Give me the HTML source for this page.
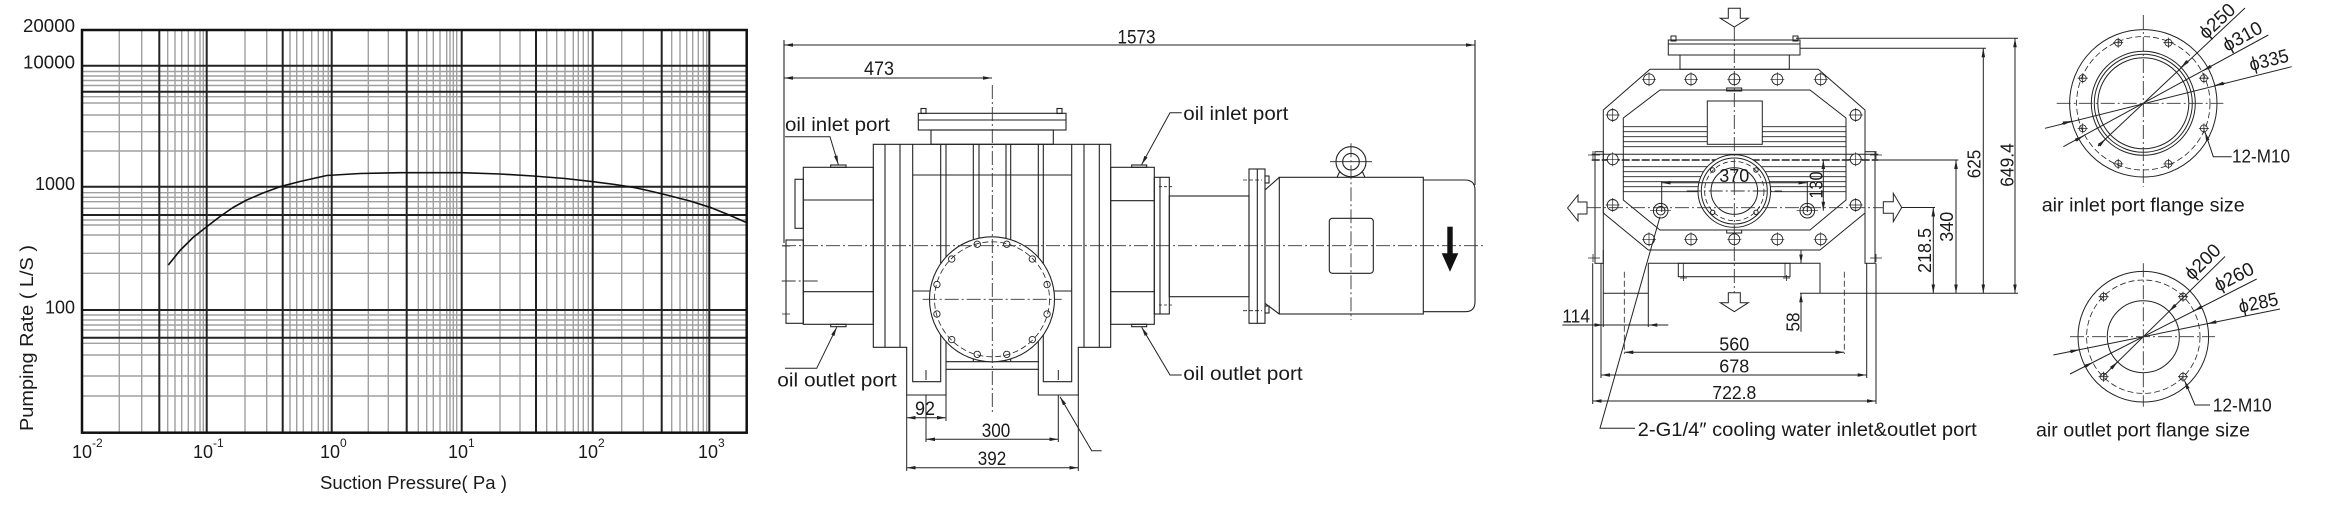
<!DOCTYPE html>
<html><head><meta charset="utf-8"><style>
html,body{margin:0;padding:0;background:#fff;}
svg{display:block;}
text{font-family:"Liberation Sans",sans-serif;fill:#1a1a1a;}
</style></head><body>
<svg width="2326" height="512" viewBox="0 0 2326 512" xmlns="http://www.w3.org/2000/svg">
<defs>
<marker id="ar" viewBox="0 0 10 4" refX="10" refY="2" markerWidth="9" markerHeight="3.6" markerUnits="userSpaceOnUse" orient="auto-start-reverse"><path d="M0,0L10,2L0,4z" fill="#222"/></marker>
</defs>
<rect width="2326" height="512" fill="#fff"/>

<!-- ================= CHART ================= -->
<g fill="none">
<path stroke="#a0a0a0" stroke-width="1.4" d="M119.3,30V432.7M141.7,30V432.7M167.7,30V432.7M175,30V432.7M181.7,30V432.7M188.3,30V432.7M195,30V432.7M200,30V432.7M203.3,30V432.7M245,30V432.7M266.7,30V432.7M290,30V432.7M296.7,30V432.7M303.3,30V432.7M311.7,30V432.7M318.3,30V432.7M323.3,30V432.7M328.3,30V432.7M368.3,30V432.7M388.3,30V432.7M418.3,30V432.7M426.7,30V432.7M433.3,30V432.7M440,30V432.7M446.7,30V432.7M450,30V432.7M453.3,30V432.7M456.7,30V432.7M500,30V432.7M520,30V432.7M546.7,30V432.7M556.7,30V432.7M565,30V432.7M573.3,30V432.7M578.3,30V432.7M583.3,30V432.7M588.3,30V432.7M621.7,30V432.7M643.3,30V432.7M671.7,30V432.7M680,30V432.7M686.7,30V432.7M692.7,30V432.7M698.3,30V432.7M703.3,30V432.7M706.7,30V432.7"/>
<path stroke="#a0a0a0" stroke-width="1.4" d="M82,71.5H746.7M82,76H746.7M82,80.5H746.7M82,85.5H746.7M82,96.7H746.7M82,103H746.7M82,115H746.7M82,131.7H746.7M82,151H746.7M82,192.7H746.7M82,197.3H746.7M82,201.7H746.7M82,208.3H746.7M82,220H746.7M82,225H746.7M82,235H746.7M82,253.3H746.7M82,273.3H746.7M82,315H746.7M82,320H746.7M82,325H746.7M82,330H746.7M82,343.3H746.7M82,355H746.7M82,376H746.7M82,396H746.7"/>
<path stroke="#222" stroke-width="2" d="M159.3,30V432.7M206.7,30V432.7M282.7,30V432.7M331.7,30V432.7M406.7,30V432.7M461.7,30V432.7M536,30V432.7M592.7,30V432.7M661.7,30V432.7M709.3,30V432.7M82,65.7H746.7M82,91.7H746.7M82,186.7H746.7M82,215H746.7M82,310H746.7M82,337.7H746.7"/>
<rect x="82" y="30" width="664.7" height="402.7" stroke="#111" stroke-width="2.5"/>
<polyline stroke="#111" stroke-width="1.6" stroke-linejoin="round" points="168.3,265 180,250.5 193,237.5 206.7,226.7 220,216.5 233,207.5 246.7,200 263,193 280,186.7 300,181.5 326.7,175.5 360,173.5 400,172.7 461.7,172.7 500,174 533,176 565,178.5 593,181.7 615,184.5 633,187.3 650,191 666.7,195 690,201 710,207.3 728,214.5 746.7,222.7"/>
</g>
<g font-size="18">
<text x="75" y="32" text-anchor="end" textLength="52" lengthAdjust="spacingAndGlyphs">20000</text>
<text x="75" y="68.5" text-anchor="end" textLength="52" lengthAdjust="spacingAndGlyphs">10000</text>
<text x="75" y="190" text-anchor="end" textLength="40" lengthAdjust="spacingAndGlyphs">1000</text>
<text x="75" y="313.5" text-anchor="end" textLength="30" lengthAdjust="spacingAndGlyphs">100</text>
<text x="72" y="458">10<tspan dy="-11" font-size="12">-2</tspan></text>
<text x="193" y="458">10<tspan dy="-11" font-size="12">-1</tspan></text>
<text x="320" y="458">10<tspan dy="-11" font-size="12">0</tspan></text>
<text x="448" y="458">10<tspan dy="-11" font-size="12">1</tspan></text>
<text x="578" y="458">10<tspan dy="-11" font-size="12">2</tspan></text>
<text x="698" y="458">10<tspan dy="-11" font-size="12">3</tspan></text>
<text x="320" y="489" textLength="187" lengthAdjust="spacingAndGlyphs">Suction Pressure( Pa )</text>
<text transform="translate(33,338) rotate(-90)" text-anchor="middle" textLength="186" lengthAdjust="spacingAndGlyphs">Pumping Rate ( L/S )</text>
</g>

<!-- ================= SIDE VIEW ================= -->
<g fill="none" stroke="#222" stroke-width="1.1">
<line x1="784" y1="45" x2="1475" y2="45" marker-start="url(#ar)" marker-end="url(#ar)"/>
<line x1="784" y1="78" x2="992" y2="78" marker-start="url(#ar)" marker-end="url(#ar)"/>
<line x1="784" y1="40" x2="784" y2="243"/>
<line x1="1475" y1="40" x2="1475" y2="185"/>
<rect x="918.3" y="113.3" width="147.7" height="16.7"/>
<line x1="918.3" y1="120" x2="1066" y2="120"/>
<rect x="921" y="108.5" width="5" height="5"/><rect x="1057" y="108.5" width="5" height="5"/>
<rect x="931" y="130" width="122.3" height="14.3"/>
<path d="M873.3,144.3H1110.7V347.3H1078.3V395H1038.3V361.7H946V395H906.7V347.3H873.3Z"/>
<line x1="946" y1="369.3" x2="1038.3" y2="369.3"/>
<path d="M885,144.3V347.3M900,144.3V347.3M1084,144.3V347.3M1099.3,144.3V347.3"/>
<path d="M912.7,144.3V381.7H940.7V144.3M1043.3,144.3V381.7H1071.7V144.3"/>
<path d="M946,144.3V361.7M1038.3,144.3V361.7M973.3,144.3V361.7M979,144.3V361.7M1006,144.3V361.7M1010.7,144.3V361.7"/>
<path d="M912.7,175H1071.7M912.7,291H1071.7"/>
<circle cx="992" cy="299.3" r="62.5" fill="#fff"/>
<circle cx="992" cy="299.3" r="57.5" stroke-width="0.8" stroke-dasharray="6 3"/>
<g stroke-width="0.9">
<circle cx="1006.75" cy="244.24" r="3.2"/><circle cx="977.25" cy="244.24" r="3.2"/>
<circle cx="1032.3" cy="259" r="3.2"/><circle cx="951.7" cy="259" r="3.2"/>
<circle cx="1047.06" cy="284.55" r="3.2"/><circle cx="936.94" cy="284.55" r="3.2"/>
<circle cx="1047.06" cy="314.05" r="3.2"/><circle cx="936.94" cy="314.05" r="3.2"/>
<circle cx="1032.3" cy="339.6" r="3.2"/><circle cx="951.7" cy="339.6" r="3.2"/>
<circle cx="1006.75" cy="354.36" r="3.2"/><circle cx="977.25" cy="354.36" r="3.2"/>
</g>
<rect x="803.3" y="167.3" width="70" height="157"/>
<path d="M803.3,200H873.3M803.3,291.7H873.3"/>
<rect x="830.7" y="165" width="15.3" height="2.3"/><rect x="830.7" y="324.3" width="15.3" height="2.4"/>
<rect x="795" y="179.3" width="8.3" height="49"/>
<rect x="786" y="240" width="17.3" height="83.3"/>
<path d="M782,246H790M782,314H790M786,243V249M786,311V317" stroke-width="0.8"/>
<rect x="1110.7" y="167.3" width="43.6" height="157"/>
<path d="M1110.7,200.7H1154.3M1110.7,291.7H1154.3"/>
<rect x="1131.7" y="165" width="15" height="2.3"/><rect x="1131.7" y="324.3" width="15" height="2.4"/>
<rect x="1154.3" y="177.3" width="15" height="136.7"/>
<line x1="1160" y1="177.3" x2="1160" y2="314"/>
<path d="M1159,186.7H1172M1159,305H1172" stroke-width="0.8" stroke-dasharray="3 2"/>
<rect x="1169.3" y="196" width="79.7" height="100.7"/>
<rect x="1249" y="169" width="16" height="154.3"/>
<line x1="1257.3" y1="169" x2="1257.3" y2="323.3"/>
<path d="M1243,180H1262M1243,310.7H1262" stroke-width="0.8" stroke-dasharray="4 2"/>
<rect x="1265" y="176" width="4" height="7"/><rect x="1265" y="306" width="4" height="7"/>
<path d="M1265,190L1279.3,177.3M1265,303.3L1279.3,314"/>
<rect x="1279.3" y="177.3" width="144" height="136.7"/>
<path d="M1423.3,180H1465Q1475,180 1475,190V301.7Q1475,311.7 1465,311.7H1423.3"/>
<circle cx="1351" cy="161.7" r="15"/>
<circle cx="1351" cy="161.7" r="8.3"/>
<path d="M1337,177.3L1340,171M1365,177.3L1362,171"/>
<line x1="1330" y1="161.7" x2="1372" y2="161.7" stroke-width="0.8"/>
<rect x="1329.3" y="218.3" width="44" height="55" rx="3"/>
</g>
<g fill="none" stroke="#333" stroke-width="0.9" stroke-dasharray="14 3 2 3">
<line x1="992.3" y1="85" x2="992.3" y2="412"/>
<line x1="782" y1="245.7" x2="1483" y2="245.7"/>
<line x1="922.7" y1="299.3" x2="1061.7" y2="299.3"/>
<line x1="781.7" y1="281" x2="818.3" y2="281"/>
<line x1="1351" y1="143.3" x2="1351" y2="320"/>
</g>
<rect x="1447.3" y="226.7" width="5.4" height="27" fill="#111"/>
<polygon points="1441.7,253.3 1458.3,253.3 1450,271.7" fill="#111"/>
<g fill="none" stroke="#222" stroke-width="1">
<path d="M906.7,395V471M946,395V421M1078.3,395V471M926,370V380M926,395V442M1058.3,370V380M1058.3,395V442"/>
<line x1="906.7" y1="417.7" x2="946" y2="417.7" marker-start="url(#ar)" marker-end="url(#ar)"/>
<line x1="926" y1="439.3" x2="1058.3" y2="439.3" marker-start="url(#ar)" marker-end="url(#ar)"/>
<line x1="906.7" y1="467.7" x2="1078.3" y2="467.7" marker-start="url(#ar)" marker-end="url(#ar)"/>
<polyline points="1101.7,450.7 1091.7,450.7 1060,396.7" marker-end="url(#ar)"/>
<polyline points="785,136.7 830,136.7 838.3,164.5" marker-end="url(#ar)"/>
<polyline points="785,368.3 816.7,368.3 836.7,327.3" marker-end="url(#ar)"/>
<polyline points="1181.7,112.7 1170,112.7 1141.7,164.5" marker-end="url(#ar)"/>
<polyline points="1181.7,375 1170,375 1141.7,327.3" marker-end="url(#ar)"/>
</g>
<g font-size="19" text-anchor="middle">
<text x="1136.5" y="43.5" textLength="38" lengthAdjust="spacingAndGlyphs">1573</text>
<text x="879" y="75" textLength="30" lengthAdjust="spacingAndGlyphs">473</text>
<text x="925" y="415" textLength="20" lengthAdjust="spacingAndGlyphs">92</text>
<text x="996" y="437" textLength="28.5" lengthAdjust="spacingAndGlyphs">300</text>
<text x="992" y="465" textLength="28.5" lengthAdjust="spacingAndGlyphs">392</text>
</g>
<g font-size="19.5">
<text x="785" y="131" textLength="105" lengthAdjust="spacingAndGlyphs">oil inlet port</text>
<text x="777.3" y="386.7" textLength="119.4" lengthAdjust="spacingAndGlyphs">oil outlet port</text>
<text x="1183.3" y="120" textLength="105" lengthAdjust="spacingAndGlyphs">oil inlet port</text>
<text x="1183.3" y="380" textLength="119.4" lengthAdjust="spacingAndGlyphs">oil outlet port</text>
</g>

<!-- ================= FRONT VIEW ================= -->
<g fill="none" stroke="#222" stroke-width="1">
<path d="M1728.3,8.3H1740.3V18.3H1748.3L1734.3,27L1720.3,18.3H1728.3Z"/>
<path d="M1728.3,292.7H1740.3V302.7H1748.3L1734.3,311.7L1720.3,302.7H1728.3Z"/>
<path d="M1587,202H1578V195L1567.6,208L1578,221V214H1587Z"/>
<path d="M1883.3,201.7H1893.3V193.3L1901.7,207.5L1893.3,221.7V213.3H1883.3Z"/>
<rect x="1668.3" y="40" width="131.7" height="15"/>
<line x1="1668.3" y1="44" x2="1800" y2="44"/>
<rect x="1671" y="36" width="5" height="5"/><rect x="1793" y="36" width="5" height="5"/>
<rect x="1680" y="55" width="109.3" height="14.3"/>
<path d="M1650,69.3H1818.3L1865,110V213L1820,250H1648.3L1603.3,213V110Z" stroke-linejoin="round"/>
<path d="M1660,90H1810L1846,118V200L1810,230H1660L1623.3,200V118Z" stroke-linejoin="round"/>
<rect x="1726.7" y="88" width="15" height="3"/>
<rect x="1726.7" y="230" width="15" height="3"/>
<path d="M1623.3,126.7H1846M1623.3,131.7H1846M1623.3,136.7H1846M1623.3,141.7H1846M1623.3,146.7H1846M1623.3,166.7H1846M1623.3,171.7H1846M1623.3,176.7H1846M1623.3,181.7H1846M1623.3,186.7H1846M1623.3,191.7H1846" stroke-width="0.8"/>
<line x1="1591.7" y1="154.3" x2="1878.3" y2="154.3"/>
<line x1="1591.7" y1="160" x2="1878.3" y2="160" stroke-width="1.4" stroke-dasharray="8 2"/>
<rect x="1707.3" y="101" width="55" height="43.3" fill="#fff"/>
<rect x="1595" y="151.7" width="8.3" height="111.6"/>
<rect x="1865" y="151.7" width="10" height="111.6"/>
<path d="M1588,155H1600M1588,258H1600M1870,155H1882M1870,258H1882M1593,151V159M1593,254V262M1876,151V159M1876,254V262" stroke-width="0.8"/>
<g stroke-width="0.9">
<circle cx="1649" cy="79.3" r="5.5"/><circle cx="1691" cy="79.3" r="5.5"/><circle cx="1734.3" cy="79.3" r="5.5"/><circle cx="1777.3" cy="79.3" r="5.5"/><circle cx="1820.7" cy="79.3" r="5.5"/>
<circle cx="1649" cy="239.3" r="5.5"/><circle cx="1691" cy="239.3" r="5.5"/><circle cx="1734.3" cy="239.3" r="5.5"/><circle cx="1777.3" cy="239.3" r="5.5"/><circle cx="1820.7" cy="239.3" r="5.5"/>
<circle cx="1612.7" cy="115" r="5.5"/><circle cx="1612.7" cy="159.3" r="5.5" fill="#fff"/><circle cx="1612.7" cy="205" r="5.5"/>
<circle cx="1855.7" cy="115" r="5.5"/><circle cx="1855.7" cy="159.3" r="5.5" fill="#fff"/><circle cx="1855.7" cy="205" r="5.5"/>
<path d="M1642,79.3H1656M1649,72.3V86.3M1684,79.3H1698M1691,72.3V86.3M1727.3,79.3H1741.3M1734.3,72.3V86.3M1770.3,79.3H1784.3M1777.3,72.3V86.3M1813.7,79.3H1827.7M1820.7,72.3V86.3M1642,239.3H1656M1649,232.3V246.3M1684,239.3H1698M1691,232.3V246.3M1727.3,239.3H1741.3M1734.3,232.3V246.3M1770.3,239.3H1784.3M1777.3,232.3V246.3M1813.7,239.3H1827.7M1820.7,232.3V246.3M1605.7,115H1619.7M1612.7,108V122M1605.7,159.3H1619.7M1612.7,152.3V166.3M1605.7,205H1619.7M1612.7,198V212M1848.7,115H1862.7M1855.7,108V122M1848.7,159.3H1862.7M1855.7,152.3V166.3M1848.7,205H1862.7M1855.7,198V212" stroke-width="0.7"/>
</g>
<circle cx="1734.3" cy="191" r="36.3" fill="#fff"/>
<circle cx="1734.3" cy="191" r="33"/>
<circle cx="1734.3" cy="191" r="29.7" stroke-width="0.8" stroke-dasharray="5 3"/>
<circle cx="1734.3" cy="191" r="23.3"/>
<circle cx="1712.7" cy="170" r="2.2"/><circle cx="1756" cy="170" r="2.2"/><circle cx="1712.7" cy="212.3" r="2.2"/><circle cx="1756" cy="212.3" r="2.2"/>
<circle cx="1660.7" cy="210.7" r="7.3"/><circle cx="1660.7" cy="210.7" r="4.3"/>
<circle cx="1807.3" cy="210.7" r="7.3"/><circle cx="1807.3" cy="210.7" r="4.3"/>
<path d="M1650,210.7H1671M1796.6,210.7H1818" stroke-width="0.7"/>
<path d="M1648.3,263.3H1820V293.3M1648.3,263.3V327M1603.3,293.3H1648.3M1603.3,250V327"/>
<rect x="1678.3" y="263.3" width="111.7" height="13.4"/>
<path d="M1683.3,263.3V276.7M1785,263.3V276.7" stroke-width="0.8"/>
<path d="M1680,278H1687M1783,278H1790M1683.5,275V281M1786.5,275V281" stroke-width="0.8"/>
<path d="M1592.7,263.3V404M1601,263.3V378M1866.7,263.3V378M1876,263.3V404"/>
<path d="M1624.3,271.7V354M1844.3,271.7V354" stroke-dasharray="6 3" stroke-width="0.8"/>
<line x1="1796" y1="38.3" x2="2018" y2="38.3"/>
<line x1="1800" y1="48.3" x2="1986" y2="48.3"/>
<line x1="1800" y1="293.3" x2="2018" y2="293.3"/>
<line x1="1878" y1="160" x2="1958.3" y2="160"/>
<line x1="1901.7" y1="207.5" x2="1935" y2="207.5"/>
<line x1="1933.3" y1="207.5" x2="1933.3" y2="293.3" marker-start="url(#ar)" marker-end="url(#ar)"/>
<line x1="1956" y1="160" x2="1956" y2="293.3" marker-start="url(#ar)" marker-end="url(#ar)"/>
<line x1="1983.3" y1="48.3" x2="1983.3" y2="293.3" marker-start="url(#ar)" marker-end="url(#ar)"/>
<line x1="2015" y1="38.3" x2="2015" y2="293.3" marker-start="url(#ar)" marker-end="url(#ar)"/>
<line x1="1823.3" y1="160" x2="1823.3" y2="210.7" marker-start="url(#ar)" marker-end="url(#ar)"/>
<path d="M1661.7,181V212M1807.3,181V212"/>
<line x1="1661.7" y1="182.7" x2="1807.3" y2="182.7" marker-start="url(#ar)" marker-end="url(#ar)"/>
<line x1="1801" y1="250" x2="1801" y2="263.3" marker-end="url(#ar)"/>
<line x1="1801" y1="331.7" x2="1801" y2="293.3" marker-end="url(#ar)"/>
<line x1="1624.3" y1="352.3" x2="1844.3" y2="352.3" marker-start="url(#ar)" marker-end="url(#ar)"/>
<line x1="1601" y1="375" x2="1866.7" y2="375" marker-start="url(#ar)" marker-end="url(#ar)"/>
<line x1="1592.7" y1="401" x2="1876" y2="401" marker-start="url(#ar)" marker-end="url(#ar)"/>
<line x1="1562.3" y1="325" x2="1668.3" y2="325"/>
<line x1="1592" y1="325" x2="1603.3" y2="325" marker-end="url(#ar)"/>
<line x1="1660" y1="325" x2="1648.3" y2="325" marker-end="url(#ar)"/>
<polyline points="1635,428.3 1600,428.3 1660,216.7"/>
</g>
<g fill="none" stroke="#333" stroke-width="0.9" stroke-dasharray="14 3 2 3">
<line x1="1734.3" y1="27" x2="1734.3" y2="293"/>
<line x1="1587" y1="207.7" x2="1883.3" y2="207.7"/>
<line x1="1686.7" y1="191" x2="1782" y2="191"/>
</g>
<g font-size="18.5">
<text x="1734.3" y="182" text-anchor="middle" textLength="30" lengthAdjust="spacingAndGlyphs">370</text>
<text x="1734.3" y="350.5" text-anchor="middle" textLength="30" lengthAdjust="spacingAndGlyphs">560</text>
<text x="1734.3" y="372.7" text-anchor="middle" textLength="30" lengthAdjust="spacingAndGlyphs">678</text>
<text x="1734.3" y="399" text-anchor="middle" textLength="44" lengthAdjust="spacingAndGlyphs">722.8</text>
<text x="1562.3" y="322.7" textLength="27.7" lengthAdjust="spacingAndGlyphs">114</text>
<text transform="translate(1822.5,185) rotate(-90)" text-anchor="middle" textLength="27" lengthAdjust="spacingAndGlyphs">130</text>
<text transform="translate(1931,250.5) rotate(-90)" text-anchor="middle" textLength="45" lengthAdjust="spacingAndGlyphs">218.5</text>
<text transform="translate(1953,226.7) rotate(-90)" text-anchor="middle" textLength="30" lengthAdjust="spacingAndGlyphs">340</text>
<text transform="translate(1980.5,164) rotate(-90)" text-anchor="middle" textLength="28.5" lengthAdjust="spacingAndGlyphs">625</text>
<text transform="translate(2013.5,165) rotate(-90)" text-anchor="middle" textLength="43.5" lengthAdjust="spacingAndGlyphs">649.4</text>
<text transform="translate(1799.5,322) rotate(-90)" text-anchor="middle" textLength="19" lengthAdjust="spacingAndGlyphs">58</text>
</g>
<text x="1637.7" y="436" font-size="19.5" textLength="339" lengthAdjust="spacingAndGlyphs">2-G1/4″ cooling water inlet&amp;outlet port</text>

<!-- ================= FLANGES ================= -->
<g fill="none" stroke="#222" stroke-width="1">
<circle cx="2143.3" cy="103.3" r="73.7"/>
<circle cx="2143.3" cy="103.3" r="66.7" stroke-width="0.8" stroke-dasharray="6 3"/>
<circle cx="2143.3" cy="103.3" r="52"/>
<circle cx="2143.3" cy="103.3" r="49"/>
<circle cx="2143.3" cy="103.3" r="45.5"/>
<g stroke-width="0.8">
<circle cx="2118.2" cy="42.7" r="3.5"/><circle cx="2168.4" cy="42.7" r="3.5"/><circle cx="2118.2" cy="163.9" r="3.5"/><circle cx="2168.4" cy="163.9" r="3.5"/>
<circle cx="2082.7" cy="78.2" r="3.5"/><circle cx="2203.9" cy="78.2" r="3.5"/><circle cx="2082.7" cy="128.4" r="3.5"/><circle cx="2203.9" cy="128.4" r="3.5"/>
<path d="M2113.2,42.7H2123.2M2118.2,37.7V47.7M2163.4,42.7H2173.4M2168.4,37.7V47.7M2113.2,163.9H2123.2M2118.2,158.9V168.9M2163.4,163.9H2173.4M2168.4,158.9V168.9M2077.7,78.2H2087.7M2082.7,73.2V83.2M2198.9,78.2H2208.9M2203.9,73.2V83.2M2077.7,128.4H2087.7M2082.7,123.4V133.4M2198.9,128.4H2208.9M2203.9,123.4V133.4"/>
</g>
<line x1="2098" y1="146" x2="2245" y2="8"/>
<line x1="2063.3" y1="146.7" x2="2268.3" y2="35"/>
<line x1="2045" y1="128.3" x2="2291.7" y2="66.7"/>
<line x1="2188.3" y1="60.6" x2="2181" y2="67.5" marker-end="url(#ar)"/>
<line x1="2098.3" y1="146" x2="2105.6" y2="139.1" marker-end="url(#ar)"/>
<line x1="2211.8" y1="65.9" x2="2203" y2="70.7" marker-end="url(#ar)"/>
<line x1="2074.8" y1="140.7" x2="2083.6" y2="135.9" marker-end="url(#ar)"/>
<line x1="2224.8" y1="83" x2="2214.8" y2="85.5" marker-end="url(#ar)"/>
<line x1="2061.8" y1="123.6" x2="2071.8" y2="121.1" marker-end="url(#ar)"/>
<polyline points="2231.7,156.7 2213.3,156.7 2205,132" marker-end="url(#ar)"/>
<circle cx="2143.3" cy="336.7" r="65.3"/>
<circle cx="2143.3" cy="336.7" r="56.7" stroke-width="0.8" stroke-dasharray="6 3"/>
<circle cx="2143.3" cy="336.7" r="36"/>
<g stroke-width="0.8">
<circle cx="2103.6" cy="296.7" r="3.5"/><circle cx="2183" cy="296.7" r="3.5"/><circle cx="2103.6" cy="376.7" r="3.5"/><circle cx="2183" cy="376.7" r="3.5"/>
<path d="M2098.6,296.7H2108.6M2103.6,291.7V301.7M2178,296.7H2188M2183,291.7V301.7M2098.6,376.7H2108.6M2103.6,371.7V381.7M2178,376.7H2188M2183,371.7V381.7"/>
</g>
<line x1="2103.3" y1="376" x2="2225" y2="256.5"/>
<line x1="2070" y1="374" x2="2256.7" y2="279"/>
<line x1="2053.3" y1="355" x2="2280" y2="309"/>
<line x1="2176.1" y1="304.5" x2="2169" y2="311.5" marker-end="url(#ar)"/>
<line x1="2110.5" y1="368.9" x2="2117.6" y2="361.9" marker-end="url(#ar)"/>
<line x1="2202.7" y1="306.4" x2="2193.8" y2="310.9" marker-end="url(#ar)"/>
<line x1="2083.9" y1="367" x2="2092.8" y2="362.4" marker-end="url(#ar)"/>
<line x1="2217.1" y1="321.7" x2="2207.3" y2="323.7" marker-end="url(#ar)"/>
<line x1="2069.5" y1="351.7" x2="2079.3" y2="349.7" marker-end="url(#ar)"/>
<polyline points="2210,405 2195,405 2184.5,380.5" marker-end="url(#ar)"/>
</g>
<g fill="none" stroke="#333" stroke-width="0.9" stroke-dasharray="14 3 2 3">
<line x1="2056.7" y1="103.3" x2="2223.3" y2="103.3"/>
<line x1="2143.3" y1="15" x2="2143.3" y2="186.7"/>
<line x1="2070" y1="336.7" x2="2215" y2="336.7"/>
<line x1="2143.3" y1="263.3" x2="2143.3" y2="406.7"/>
</g>
<g font-size="19">
<text transform="translate(2206,40) rotate(-43)" textLength="42" lengthAdjust="spacingAndGlyphs">ϕ250</text>
<text transform="translate(2227,52) rotate(-28.6)" textLength="42" lengthAdjust="spacingAndGlyphs">ϕ310</text>
<text transform="translate(2251,71) rotate(-14)" textLength="40" lengthAdjust="spacingAndGlyphs">ϕ335</text>
<text transform="translate(2192,281) rotate(-44.5)" textLength="42" lengthAdjust="spacingAndGlyphs">ϕ200</text>
<text transform="translate(2218,292) rotate(-27)" textLength="42" lengthAdjust="spacingAndGlyphs">ϕ260</text>
<text transform="translate(2240,313) rotate(-11.5)" textLength="40" lengthAdjust="spacingAndGlyphs">ϕ285</text>
</g>
<g font-size="18">
<text x="2232" y="162.5" textLength="58" lengthAdjust="spacingAndGlyphs">12-M10</text>
<text x="2212.7" y="411.5" textLength="59" lengthAdjust="spacingAndGlyphs">12-M10</text>
</g>
<g font-size="19.5">
<text x="2041.7" y="211.7" textLength="203" lengthAdjust="spacingAndGlyphs">air inlet port flange size</text>
<text x="2036" y="436.5" textLength="214" lengthAdjust="spacingAndGlyphs">air outlet port flange size</text>
</g>
</svg>
</body></html>
